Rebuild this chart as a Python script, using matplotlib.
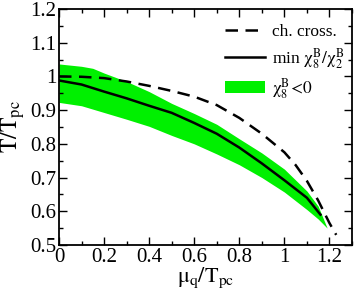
import matplotlib
matplotlib.use("Agg")
import matplotlib.pyplot as plt
from matplotlib.ticker import MultipleLocator

plt.rcParams['font.family'] = ['Liberation Serif', 'DejaVu Serif']
plt.rcParams['mathtext.fontset'] = 'stix'

# chiral crossover (dashed)
mu_cc = [0.0, 0.1, 0.2, 0.3, 0.4, 0.5, 0.6, 0.7, 0.8, 0.9, 1.0, 1.05, 1.1, 1.15, 1.2, 1.23]
T_cc = [1.0, 0.999, 0.995, 0.985, 0.972, 0.957, 0.94, 0.915, 0.877, 0.83, 0.775, 0.737, 0.69, 0.632, 0.565, 0.53]

# min chi8/chi2 (solid)
mu_min = [0.0, 0.1, 0.2, 0.3, 0.4, 0.5, 0.6, 0.7, 0.8, 0.9, 1.0, 1.1, 1.16]
T_min = [0.988, 0.976, 0.955, 0.935, 0.913, 0.892, 0.862, 0.83, 0.789, 0.742, 0.692, 0.64, 0.59]

# chi8 < 0 band
mu_band = [0.0, 0.1, 0.15, 0.2, 0.3, 0.4, 0.5, 0.6, 0.7, 0.8, 0.9, 1.0, 1.1, 1.15, 1.19]
T_band_hi = [1.037, 1.03, 1.024, 1.01, 0.985, 0.955, 0.92, 0.89, 0.858, 0.815, 0.773, 0.725, 0.66, 0.615, 0.55]
T_band_lo = [0.923, 0.913, 0.903, 0.893, 0.873, 0.852, 0.825, 0.80, 0.77, 0.738, 0.70, 0.657, 0.605, 0.577, 0.55]

fig = plt.figure(figsize=(3.54, 2.93), dpi=100)
ax = fig.add_axes([59/354, 1 - 245/293, (352-59)/354, (245-9)/293])

ax.fill_between(mu_band, T_band_lo, T_band_hi, color='#00f000', lw=0,
                label=r'$\mathrm{\chi_8^B\!<\!0}$')
ax.plot(mu_cc, T_cc, 'k--', lw=1.8, dashes=(5, 3), label='ch. cross.')
ax.plot(mu_min, T_min, 'k-', lw=1.8, label=r'min $\mathrm{\chi_8^B/\chi_2^B}$')

ax.set_xlim(0, 1.3)
ax.set_ylim(0.5, 1.2)
ax.xaxis.set_major_locator(MultipleLocator(0.2))
ax.xaxis.set_minor_locator(MultipleLocator(0.1))
ax.yaxis.set_major_locator(MultipleLocator(0.1))
ax.yaxis.set_minor_locator(MultipleLocator(0.05))
ax.set_xticks([0, 0.2, 0.4, 0.6, 0.8, 1.0, 1.2])
ax.set_xticklabels(['0', '0.2', '0.4', '0.6', '0.8', '1', '1.2'])
ax.set_yticks([0.5, 0.6, 0.7, 0.8, 0.9, 1.0, 1.1, 1.2])
ax.set_yticklabels(['0.5', '0.6', '0.7', '0.8', '0.9', '1', '1.1', '1.2'])
ax.tick_params(which='both', direction='in', top=True, right=True, labelsize=15, pad=2)
ax.tick_params(which='major', length=6, width=1)
ax.tick_params(which='minor', length=3, width=1)
for s in ax.spines.values():
    s.set_linewidth(1.3)

ax.set_xlabel(r'$\mathrm{\mu_q/T_{pc}}$', fontsize=16, labelpad=-1)
ax.set_ylabel(r'$\mathrm{T/T_{pc}}$', fontsize=17, labelpad=2)

h, l = ax.get_legend_handles_labels()
order = [1, 2, 0]
ax.legend([h[i] for i in order], [l[i] for i in order], loc='upper right',
          bbox_to_anchor=(0.975, 0.935), frameon=False, fontsize=12.5,
          handlelength=2.3, handletextpad=0.45, labelspacing=0.3,
          borderaxespad=0, borderpad=0)

fig.savefig('out.png', dpi=100)
